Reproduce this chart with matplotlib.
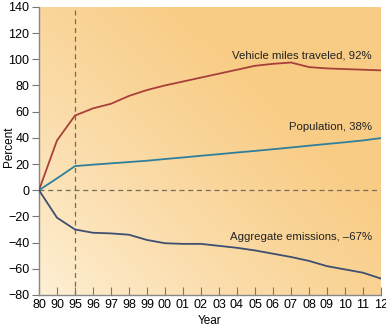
import matplotlib
matplotlib.use("Agg")
import matplotlib.pyplot as plt
import numpy as np

# year labels (non-uniform spacing in time, evenly spaced on the chart)
years = ["80", "90", "95", "96", "97", "98", "99", "00", "01", "02",
         "03", "04", "05", "06", "07", "08", "09", "10", "11", "12"]

# percent change since 1980
vmt = [0, 38, 57, 62.5, 66, 72, 76.5, 80, 83, 86,
       89, 92, 95, 96.5, 97.5, 94, 93, 92.5, 92, 91.5]
population = [0, 9, 18.4, 19.5, 20.5, 21.5, 22.5, 23.8, 25, 26.3,
              27.5, 28.8, 30, 31.3, 32.6, 34, 35.3, 36.6, 38, 39.8]
emissions = [0, -21, -30, -32.5, -33, -34, -38, -40.5, -41, -41,
             -42.5, -44, -46, -48.5, -51, -54, -58, -60.5, -63, -67.5]

plt.rcParams['font.family'] = ['Liberation Sans', 'DejaVu Sans']

fig = plt.figure(figsize=(3.86, 3.27), dpi=100)
ax = fig.add_axes([0.101, 0.098, 0.886, 0.881])

x = np.arange(len(years))

# background gradient: pale at lower left, orange towards the upper right
gx, gy = np.meshgrid(np.linspace(0, 1, 200), np.linspace(0, 1, 200))
t = np.clip(0.7 * gx + 0.6 * gy + 0.1, 0, 1) ** 0.7
pale = np.array([1.0, 0.975, 0.92])
orange = np.array([0.975, 0.80, 0.52])
img = pale[None, None, :] * (1 - t[..., None]) + orange[None, None, :] * t[..., None]
ax.imshow(img, extent=[0, len(years) - 1, -80, 140], origin='lower',
          aspect='auto', zorder=0)

ax.axhline(0, color='#7a6a58', lw=0.9, ls=(0, (4, 3)), zorder=1)
ax.axvline(2, color='#7a6a58', lw=0.9, ls=(0, (4, 3)), zorder=1)

ax.plot(x, vmt, color='#a8403a', lw=1.3, zorder=3)
ax.plot(x, population, color='#2f7f9c', lw=1.3, zorder=3)
ax.plot(x, emissions, color='#3e4f72', lw=1.3, zorder=3)

ax.text(18.5, 103, "Vehicle miles traveled, 92%", ha='right', va='center', fontsize=8.2, color='#222222')
ax.text(18.5, 48, "Population, 38%", ha='right', va='center', fontsize=8.2, color='#222222')
ax.text(18.5, -36, "Aggregate emissions, \u201367%", ha='right', va='center', fontsize=8.2, color='#222222')

ax.set_xlim(0, len(years) - 1)
ax.set_ylim(-80, 140)
ax.set_xticks(x)
ax.set_xticklabels(years)
ax.set_yticks(np.arange(-80, 141, 20))
ax.set_yticklabels([str(v).replace('-', '\u2212') for v in range(-80, 141, 20)])
ax.tick_params(axis='x', direction='in', length=6, width=0.8, color='#777777',
               labelsize=9, pad=3)
ax.tick_params(axis='y', direction='out', length=5, width=0.8, color='#777777',
               labelsize=9, pad=2)

for s in ['top', 'right']:
    ax.spines[s].set_visible(False)
for s in ['left', 'bottom']:
    ax.spines[s].set_color('#888888')
    ax.spines[s].set_linewidth(1.0)

ax.set_xlabel("Year", fontsize=8.5, labelpad=3)
fig.text(9 / 386, 0.55, "Percent", rotation=90, ha='center', va='center', fontsize=8.5)

fig.savefig("out.png", dpi=100)
